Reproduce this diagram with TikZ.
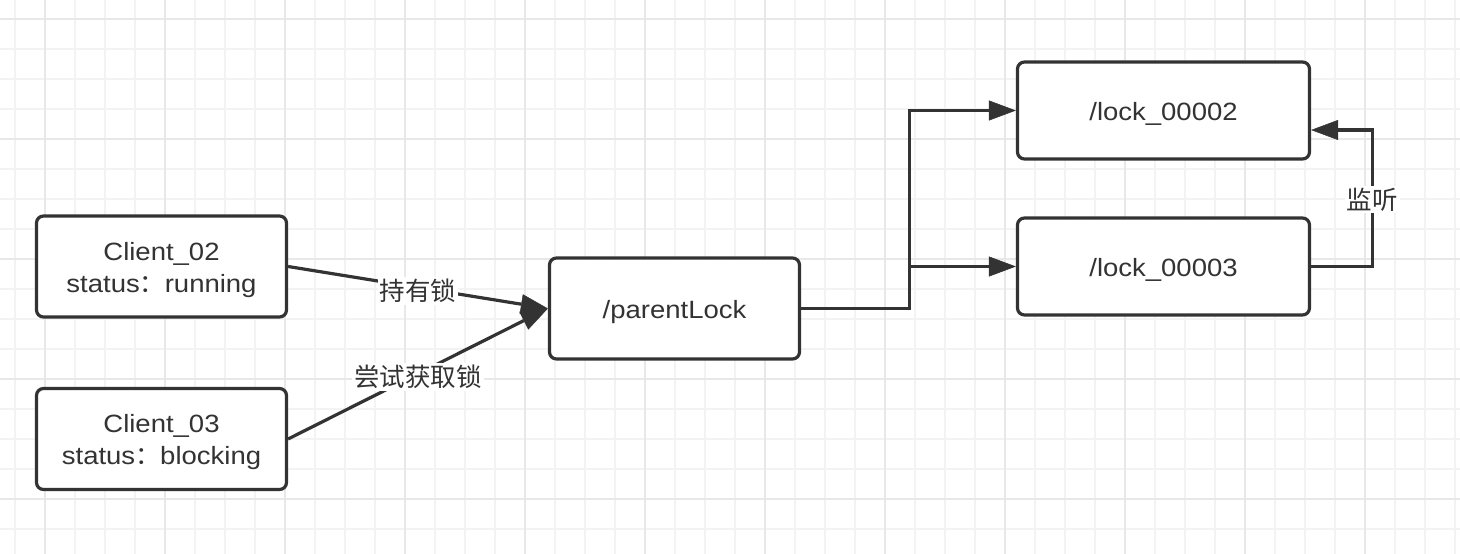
\documentclass[tikz,border=0pt]{standalone}
\usepackage{fontspec}
\setmainfont{Liberation Sans}[FakeStretch=1.1]
\newfontfamily\cjk{Noto Sans CJK SC}
\usetikzlibrary{arrows.meta,calc}
\definecolor{ink}{HTML}{333333}
\definecolor{gminor}{HTML}{F3F3F3}
\definecolor{gmajor}{HTML}{E8E8E8}
\newcommand{\oneline}[1]{\raisebox{-10pt}[0pt][0pt]{#1}}
\newcommand{\twolines}[2]{\raisebox{6.5pt}[0pt][0pt]{\begin{tabular}[t]{@{}c@{}}#1\\#2\end{tabular}}}
\begin{document}
\begin{tikzpicture}[x=1pt,y=-1pt,
  box/.style={draw=ink, line width=3.2pt, rounded corners=7pt, fill=white, text=ink,
    inner sep=0pt, font=\fontsize{25}{32}\selectfont},
  conn/.style={draw=ink, line width=3.2pt, -{Triangle[length=27pt,width=20pt,line width=0.5pt]}},
  lbl/.style={fill=white, text=ink, font=\cjk\fontsize{25.5}{28}\selectfont, inner sep=2pt},
  gridminor/.style={draw=gminor, line width=1.5pt},
  gridmajor/.style={draw=gmajor, line width=1.5pt}]
\useasboundingbox (0,0) rectangle (1460,554);
\fill[white] (0,0) rectangle (1460,554);
% grid
\foreach \x in {15,45,...,1455} \draw[gridminor] (\x,0) -- (\x,554);
\foreach \y in {19,49,...,549} \draw[gridminor] (0,\y) -- (1460,\y);
\foreach \x in {45,165,...,1445} \draw[gridmajor] (\x,0) -- (\x,554);
\foreach \y in {19,139,...,499} \draw[gridmajor] (0,\y) -- (1460,\y);
% nodes
\node[box, minimum width=250pt, minimum height=101pt] (c2) at (161.5,266.5) {\twolines{Client\_02}{status{\cjk ：}running}};
\node[box, minimum width=250pt, minimum height=101pt] (c3) at (161.5,439) {\twolines{Client\_03}{status{\cjk ：}blocking}};
\node[box, minimum width=250pt, minimum height=101pt] (pl) at (674.5,308.5) {\oneline{/parentLock}};
\node[box, minimum width=292pt, minimum height=97pt] (l2) at (1163.5,110.5) {\oneline{/lock\_00002}};
\node[box, minimum width=292pt, minimum height=97pt] (l3) at (1163.5,266.5) {\oneline{/lock\_00003}};
% connectors
\draw[conn] (c2.east) -- node[lbl, pos=0.5, yshift=-3.5pt]{持有锁} (pl.west);
\draw[conn] (c3.east) -- node[lbl, pos=0.5, yshift=-3.5pt]{尝试获取锁} (pl.west);
\draw[conn] (pl.east) -- ++(108,0) |- (l2.west);
\draw[conn] (pl.east) -- ++(108,0) |- (l3.west);
\draw[conn] (l3.east) -- ++(61,0) |- node[lbl, pos=0.25, yshift=-1.5pt]{监听} ($(l2.east)+(0,19.5)$);
\end{tikzpicture}
\end{document}
